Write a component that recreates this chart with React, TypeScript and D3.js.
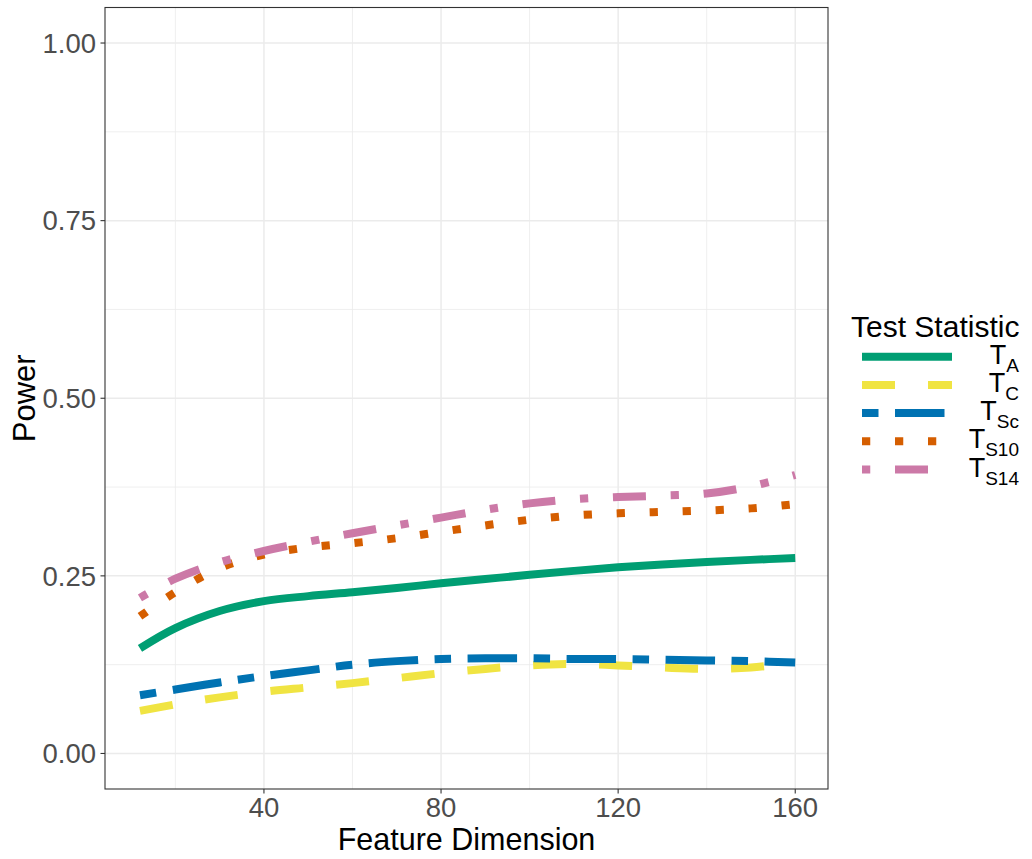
import React from 'react';
import * as d3 from 'd3';

const dims = [12, 20, 30, 40, 50, 60, 70, 80, 90, 100, 110, 120, 130, 140, 150, 160];
const powerTA = [0.148, 0.1765, 0.2005, 0.2145, 0.2215, 0.227, 0.233, 0.2395, 0.2455, 0.2515, 0.257, 0.262, 0.266, 0.2695, 0.2725, 0.275];
const powerTC = [0.060, 0.069, 0.079, 0.087, 0.093, 0.099, 0.106, 0.113, 0.119, 0.124, 0.126, 0.124, 0.121, 0.119, 0.121, 0.128];
const powerTSc = [0.082, 0.090, 0.100, 0.109, 0.117, 0.125, 0.130, 0.133, 0.134, 0.134, 0.133, 0.133, 0.132, 0.131, 0.130, 0.128];
const powerTS10 = [0.193, 0.227, 0.261, 0.280, 0.290, 0.296, 0.303, 0.312, 0.321, 0.329, 0.335, 0.338, 0.340, 0.342, 0.345, 0.351];
const powerTS14 = [0.219, 0.246, 0.269, 0.285, 0.298, 0.310, 0.321, 0.332, 0.343, 0.352, 0.358, 0.361, 0.363, 0.366, 0.376, 0.392];

const seriesNames = ['A', 'C', 'Sc', 'S10', 'S14'];
const seriesValues = [powerTA, powerTC, powerTSc, powerTS10, powerTS14];
const seriesColors = ['#009E73', '#F0E442', '#0072B2', '#D55E00', '#CC79A7'];
const seriesDash = [[], [4, 4], [2, 2, 6, 2], [1, 3], [1, 3, 4, 3]];

const xTicks = [40, 80, 120, 160];
const xMinor = [20, 60, 100, 140];
const yTicks = [0, 0.25, 0.5, 0.75, 1.0];
const yMinor = [0.125, 0.375, 0.625, 0.875];

const FONT = '"Liberation Sans", Arial, Helvetica, sans-serif';

export default function App() {
  const W = 1032, H = 859;
  const left = 105, right = 828, top = 7.5, bottom = 789;
  const x = d3.scaleLinear().domain([4.1, 167.4]).range([left, right]);
  const y = d3.scaleLinear().domain([-0.05, 1.05]).range([bottom, top]);
  const lw = 8;
  const unit = 8.25;
  const line = d3.line<number>()
    .x((_, i) => x(dims[i]))
    .y((d) => y(d))
    .curve(d3.curveCatmullRom.alpha(0.5));

  const legX0 = 862, legX1 = 952;
  const legY0 = 356.7, legStep = 28.2;

  return (
    <svg width={W} height={H} style={{ position: 'absolute', left: 0, top: 0, background: '#fff' }} fontFamily={FONT}>
      <rect x={0} y={0} width={W} height={H} fill="#fff" />
      {/* grid */}
      {yMinor.map((v) => (
        <line key={'ym' + v} x1={left} x2={right} y1={y(v)} y2={y(v)} stroke="#EBEBEB" strokeWidth={0.8} />
      ))}
      {xMinor.map((v) => (
        <line key={'xm' + v} y1={top} y2={bottom} x1={x(v)} x2={x(v)} stroke="#EBEBEB" strokeWidth={0.8} />
      ))}
      {yTicks.map((v) => (
        <line key={'yg' + v} x1={left} x2={right} y1={y(v)} y2={y(v)} stroke="#EBEBEB" strokeWidth={1.5} />
      ))}
      {xTicks.map((v) => (
        <line key={'xg' + v} y1={top} y2={bottom} x1={x(v)} x2={x(v)} stroke="#EBEBEB" strokeWidth={1.5} />
      ))}
      {/* lines */}
      {seriesValues.map((vals, i) => (
        <path
          key={'s' + i}
          d={line(vals) || ''}
          fill="none"
          stroke={seriesColors[i]}
          strokeWidth={lw}
          strokeLinecap="butt"
          strokeLinejoin="round"
          strokeDasharray={seriesDash[i].length ? seriesDash[i].map((d) => d * unit).join(' ') : undefined}
        />
      ))}
      {/* panel border */}
      <rect x={left} y={top} width={right - left} height={bottom - top} fill="none" stroke="#333333" strokeWidth={1.1} />
      {/* y axis ticks */}
      {yTicks.map((v) => (
        <g key={'yt' + v}>
          <line x1={left - 4.5} x2={left} y1={y(v)} y2={y(v)} stroke="#333333" strokeWidth={1.1} />
          <text x={left - 9} y={y(v) + 9.8} textAnchor="end" fontSize={27.5} fill="#4D4D4D">
            {v.toFixed(2)}
          </text>
        </g>
      ))}
      {/* x axis ticks */}
      {xTicks.map((v) => (
        <g key={'xt' + v}>
          <line x1={x(v)} x2={x(v)} y1={bottom} y2={bottom + 4.5} stroke="#333333" strokeWidth={1.1} />
          <text x={x(v)} y={bottom + 27.5} textAnchor="middle" fontSize={27.5} fill="#4D4D4D">
            {v}
          </text>
        </g>
      ))}
      {/* axis titles */}
      <text x={(left + right) / 2} y={850} textAnchor="middle" fontSize={30.5} fill="#000">
        Feature Dimension
      </text>
      <text
        transform={`translate(35,${(top + bottom) / 2}) rotate(-90)`}
        textAnchor="middle"
        fontSize={31}
        fill="#000"
      >
        Power
      </text>
      {/* legend */}
      <text x={851} y={336.5} fontSize={30} fill="#000">
        Test Statistic
      </text>
      {seriesNames.map((nm, i) => {
        const ly = legY0 + i * legStep;
        return (
          <g key={'lg' + i}>
            <line
              x1={legX0}
              x2={legX1}
              y1={ly}
              y2={ly}
              stroke={seriesColors[i]}
              strokeWidth={lw}
              strokeLinecap="butt"
              strokeDasharray={seriesDash[i].length ? seriesDash[i].map((d) => d * unit).join(' ') : undefined}
            />
            <text x={1019} y={ly + 7} textAnchor="end" fill="#000">
              <tspan fontSize={27}>T</tspan>
              <tspan fontSize={19} dy={8}>{nm}</tspan>
            </text>
          </g>
        );
      })}
    </svg>
  );
}
